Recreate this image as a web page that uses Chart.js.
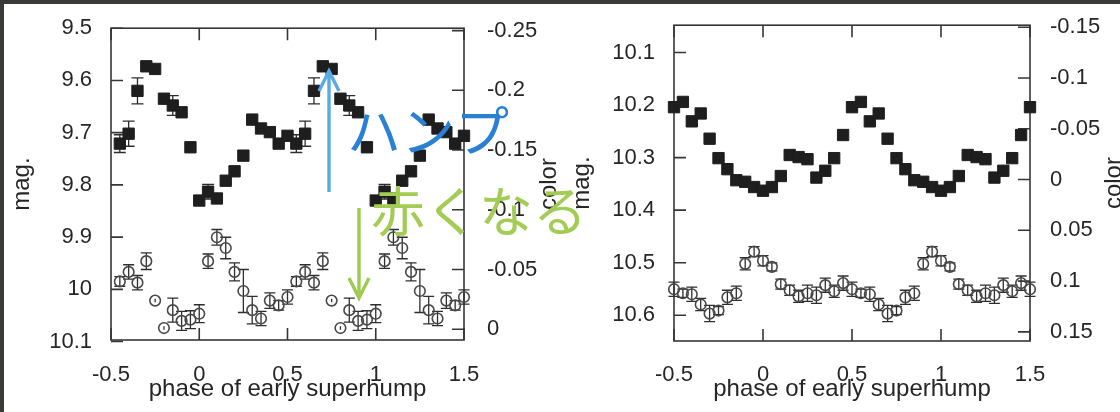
<!DOCTYPE html>
<html>
<head>
<meta charset="utf-8">
<script src="https://cdn.jsdelivr.net/npm/chart.js@4.4.1/dist/chart.umd.min.js"></script>
<style>
  body { margin: 0; background: #fff; }
  #wrap { position: relative; width: 1120px; height: 412px; overflow: hidden; background: #fff; }
  #wrap canvas { position: absolute; left: 0; top: 0; }
  .edge { position: absolute; background: #3c3a36; z-index: 5; }
</style>
</head>
<body>
<div id="wrap">
  <canvas id="left" width="1120" height="412"></canvas>
  <canvas id="right" width="1120" height="412"></canvas>
  <div class="edge" style="left:0;top:0;width:1120px;height:4px"></div>
  <div class="edge" style="left:0;top:0;width:4px;height:412px"></div>
</div>
<script>
// ---- tick labels
const phaseTicks = [-0.5, 0, 0.5, 1, 1.5];
const magTicksL = [9.5, 9.6, 9.7, 9.8, 9.9, 10, 10.1];
const colorTicksL = [-0.25, -0.2, -0.15, -0.1, -0.05, 0];
const magTicksR = [10.1, 10.2, 10.3, 10.4, 10.5, 10.6];
const colorTicksR = [-0.15, -0.1, -0.05, 0, 0.05, 0.1, 0.15];

// ---- left panel (two cycles of the folded light curve)
const phaseL = [-0.45, -0.4, -0.35, -0.3, -0.25, -0.2, -0.15, -0.1, -0.05, 0,
  0.05, 0.1, 0.15, 0.2, 0.25, 0.3, 0.35, 0.4, 0.45, 0.5,
  0.55, 0.6, 0.65, 0.7, 0.75, 0.8, 0.85, 0.9, 0.95, 1,
  1.05, 1.1, 1.15, 1.2, 1.25, 1.3, 1.35, 1.4, 1.45, 1.5];
const magL = [9.721, 9.702, 9.620, 9.573, 9.578, 9.635, 9.648, 9.661, 9.728, 9.830,
  9.813, 9.826, 9.792, 9.774, 9.744, 9.675, 9.692, 9.699, 9.721, 9.706,
  9.721, 9.702, 9.620, 9.573, 9.578, 9.635, 9.648, 9.661, 9.728, 9.830,
  9.813, 9.826, 9.792, 9.774, 9.744, 9.675, 9.692, 9.699, 9.721, 9.706];
const magErrL = [0.017, 0.024, 0.025, 0.006, 0.006, 0.006, 0.019, 0.006, 0.006, 0.006,
  0.014, 0.006, 0.006, 0.006, 0.006, 0.006, 0.006, 0.006, 0.006, 0.006,
  0.017, 0.024, 0.025, 0.006, 0.006, 0.006, 0.019, 0.006, 0.006, 0.006,
  0.014, 0.006, 0.006, 0.006, 0.006, 0.006, 0.006, 0.006, 0.006, 0.006];
const colorL = [-0.040, -0.048, -0.039, -0.057, -0.024, -0.001, -0.016, -0.007, -0.008, -0.013,
  -0.057, -0.077, -0.068, -0.048, -0.032, -0.016, -0.009, -0.024, -0.020, -0.027,
  -0.040, -0.048, -0.039, -0.057, -0.024, -0.001, -0.016, -0.007, -0.008, -0.013,
  -0.057, -0.077, -0.068, -0.048, -0.032, -0.016, -0.009, -0.024, -0.020, -0.027];
const colorErrL = [0.004, 0.006, 0.006, 0.007, 0.0015, 0.0015, 0.010, 0.008, 0.0075, 0.0075,
  0.006, 0.0065, 0.009, 0.0075, 0.018, 0.0115, 0.006, 0.0065, 0.004, 0.006,
  0.004, 0.006, 0.006, 0.007, 0.0015, 0.0015, 0.010, 0.008, 0.0075, 0.0075,
  0.006, 0.0065, 0.009, 0.0075, 0.018, 0.0115, 0.006, 0.0065, 0.004, 0.006];

// ---- right panel
const phaseR = [-0.5, -0.45, -0.4, -0.35, -0.3, -0.25, -0.2, -0.15, -0.1, -0.05,
  0, 0.05, 0.1, 0.15, 0.2, 0.25, 0.3, 0.35, 0.4, 0.45,
  0.5, 0.55, 0.6, 0.65, 0.7, 0.75, 0.8, 0.85, 0.9, 0.95,
  1, 1.05, 1.1, 1.15, 1.2, 1.25, 1.3, 1.35, 1.4, 1.45, 1.5];
const magR = [10.204, 10.194, 10.231, 10.216, 10.264, 10.301, 10.322, 10.343, 10.346, 10.356,
  10.363, 10.356, 10.335, 10.295, 10.299, 10.303, 10.338, 10.325, 10.301, 10.257,
  10.204, 10.194, 10.231, 10.216, 10.264, 10.301, 10.322, 10.343, 10.346, 10.356,
  10.363, 10.356, 10.335, 10.295, 10.299, 10.303, 10.338, 10.325, 10.301, 10.257, 10.204];
const colorR = [0.108, 0.112, 0.113, 0.123, 0.132, 0.129, 0.116, 0.112, 0.083, 0.071,
  0.080, 0.086, 0.103, 0.109, 0.115, 0.112, 0.114, 0.104, 0.110, 0.102,
  0.108, 0.112, 0.113, 0.123, 0.132, 0.129, 0.116, 0.112, 0.083, 0.071,
  0.080, 0.086, 0.103, 0.109, 0.115, 0.112, 0.114, 0.104, 0.110, 0.102, 0.108];
const colorErrR = [0.007, 0.004, 0.007, 0.006, 0.008, 0.004, 0.007, 0.007, 0.006, 0.005,
  0.005, 0.004, 0.005, 0.005, 0.006, 0.008, 0.008, 0.007, 0.006, 0.007,
  0.007, 0.004, 0.007, 0.006, 0.008, 0.004, 0.007, 0.007, 0.006, 0.005,
  0.005, 0.004, 0.005, 0.005, 0.006, 0.008, 0.008, 0.007, 0.006, 0.007, 0.007];

const INK = '#262626';
const TICK = 12;
Chart.defaults.font.family = "'Liberation Sans', Arial, sans-serif";

function fmt(v) { return String(parseFloat(Number(v).toFixed(3))); }
function pts(xs, ys) { return xs.map((x, i) => ({x: x, y: ys[i]})); }
function setTicks(list) { return s => { s.ticks = list.map(v => ({value: v})); }; }

// frame, inward ticks and error bars (gnuplot look)
const framePlugin = {
  id: 'frame',
  beforeDatasetsDraw(chart) {
    const {ctx, chartArea: a, scales} = chart;
    ctx.save();
    ctx.strokeStyle = '#363636';
    ctx.lineWidth = 1.6;
    ctx.strokeRect(a.left, a.top, a.right - a.left, a.bottom - a.top);
    ctx.beginPath();
    scales.x.ticks.forEach(t => {
      const px = scales.x.getPixelForValue(t.value);
      ctx.moveTo(px, a.bottom); ctx.lineTo(px, a.bottom - TICK);
      ctx.moveTo(px, a.top); ctx.lineTo(px, a.top + TICK);
    });
    scales.y.ticks.forEach(t => {
      const py = scales.y.getPixelForValue(t.value);
      ctx.moveTo(a.left, py); ctx.lineTo(a.left + TICK, py);
    });
    scales.y2.ticks.forEach(t => {
      const py = scales.y2.getPixelForValue(t.value);
      ctx.moveTo(a.right, py); ctx.lineTo(a.right - TICK, py);
    });
    ctx.stroke();

    ctx.strokeStyle = '#2e2e2e';
    ctx.lineWidth = 1.3;
    chart.data.datasets.forEach(ds => {
      if (!ds.errors) return;
      const ys = scales[ds.yAxisID];
      ctx.beginPath();
      ds.data.forEach((p, j) => {
        const e = ds.errors[j];
        const px = scales.x.getPixelForValue(p.x);
        const y1 = ys.getPixelForValue(p.y - e);
        const y2 = ys.getPixelForValue(p.y + e);
        ctx.moveTo(px, y1); ctx.lineTo(px, y2);
        if (Math.abs(y2 - y1) / 2 >= 4) {
          ctx.moveTo(px - ds.capHalf, y1); ctx.lineTo(px + ds.capHalf, y1);
          ctx.moveTo(px - ds.capHalf, y2); ctx.lineTo(px + ds.capHalf, y2);
        }
      });
      ctx.stroke();
    });
    ctx.restore();
  },
  afterDraw(chart, args, opts) {
    // right-hand axis title, written upward like the left one
    if (!opts.side) return;
    const {ctx, chartArea: a} = chart;
    ctx.save();
    ctx.translate(opts.sideX, (a.top + a.bottom) / 2);
    ctx.rotate(-Math.PI / 2);
    ctx.font = "24px 'Liberation Sans', Arial, sans-serif";
    ctx.fillStyle = INK;
    ctx.textAlign = 'center';
    ctx.textBaseline = 'middle';
    ctx.fillText(opts.side, 0, 0);
    ctx.restore();
  }
};

// slide annotations drawn over both panels
function arrow(ctx, x, yFrom, yTip, color) {
  const back = yTip < yFrom ? 20 : -20;
  ctx.strokeStyle = color;
  ctx.lineWidth = 3.4;
  ctx.beginPath();
  ctx.moveTo(x, yFrom); ctx.lineTo(x, yTip);
  ctx.moveTo(x - 10, yTip + back); ctx.lineTo(x, yTip); ctx.lineTo(x + 10, yTip + back);
  ctx.stroke();
}
const notePlugin = {
  id: 'notes',
  afterDraw(chart) {
    const ctx = chart.ctx;
    ctx.save();
    arrow(ctx, 329, 192, 71, '#5aaae3');
    arrow(ctx, 359, 208, 298, '#9fca50');
    ctx.font = "54px 'Noto Sans CJK JP'";
    ctx.textBaseline = 'alphabetic';
    ctx.fillStyle = '#2a80d2';
    ctx.fillText('ハンプ', 347, 152);
    ctx.fillStyle = '#a3cc55';
    ctx.fillText('赤くなる', 371, 232);
    ctx.restore();
  }
};

function makeChart(id, c) {
  return new Chart(document.getElementById(id), {
    type: 'scatter',
    data: {
      datasets: [{
        label: 'mag',
        data: pts(c.phase, c.mag),
        errors: c.magErr,
        yAxisID: 'y',
        pointStyle: 'rect',
        pointRadius: 8,
        pointHoverRadius: 8,
        backgroundColor: '#1e1e1e',
        borderColor: '#1e1e1e',
        borderWidth: 1,
        capHalf: 6,
        clip: false
      }, {
        label: 'color',
        data: pts(c.phase, c.color),
        errors: c.colorErr,
        yAxisID: 'y2',
        pointStyle: 'circle',
        pointRadius: 5.3,
        pointHoverRadius: 5.3,
        backgroundColor: 'rgba(255,255,255,0)',
        borderColor: '#484848',
        borderWidth: 1.6,
        capHalf: 5.5,
        clip: false
      }]
    },
    options: {
      responsive: false,
      animation: false,
      events: [],
      layout: {padding: c.pad},
      plugins: {
        legend: {display: false},
        tooltip: {enabled: false},
        frame: {side: 'color', sideX: c.sideX}
      },
      scales: {
        x: {
          type: 'linear', min: -0.5, max: 1.5,
          afterBuildTicks: setTicks(phaseTicks),
          afterFit: s => { s.height = c.xh; },
          grid: {display: false}, border: {display: false},
          ticks: {padding: c.xpad, color: INK, font: {size: 22}, callback: fmt, autoSkip: false, maxRotation: 0},
          title: {display: true, text: 'phase of early superhump', color: INK, font: {size: 24}, padding: {top: 0, bottom: 8}}
        },
        y: {
          position: 'left', reverse: true, min: c.magMin, max: c.magMax,
          afterBuildTicks: setTicks(c.magTicks),
          afterFit: s => { s.width = c.yw; },
          grid: {display: false}, border: {display: false},
          ticks: {padding: 11, color: INK, font: {size: 22}, callback: fmt, autoSkip: false},
          title: {display: true, text: 'mag.', color: INK, font: {size: 24}, padding: {top: 8, bottom: 0}}
        },
        y2: {
          position: 'right', reverse: true, min: c.colMin, max: c.colMax,
          afterBuildTicks: setTicks(c.colorTicks),
          afterFit: s => { s.width = c.y2w; },
          grid: {display: false}, border: {display: false},
          ticks: {padding: c.y2pad, color: INK, font: {size: 22}, callback: fmt, autoSkip: false}
        }
      }
    },
    plugins: c.extra ? [framePlugin, c.extra] : [framePlugin]
  });
}

makeChart('left', {
  phase: phaseL, mag: magL, magErr: magErrL, color: colorL, colorErr: colorErrL,
  magTicks: magTicksL, colorTicks: colorTicksL,
  magMin: 9.5, magMax: 10.097, colMin: -0.252, colMax: 0.009,
  pad: {left: 0, right: 560, top: 23, bottom: 0},
  yw: 111, y2w: 96, xh: 72, xpad: 14, y2pad: 15, sideX: 549
});

makeChart('right', {
  phase: phaseR, mag: magR, color: colorR, colorErr: colorErrR,
  magTicks: magTicksR, colorTicks: colorTicksR,
  magMin: 10.048, magMax: 10.649, colMin: -0.152, colMax: 0.159,
  pad: {left: 560, right: 0, top: 23, bottom: 0},
  yw: 114, y2w: 90, xh: 71, xpad: 13, y2pad: 12, sideX: 1114,
  extra: notePlugin
});
</script>
</body>
</html>
